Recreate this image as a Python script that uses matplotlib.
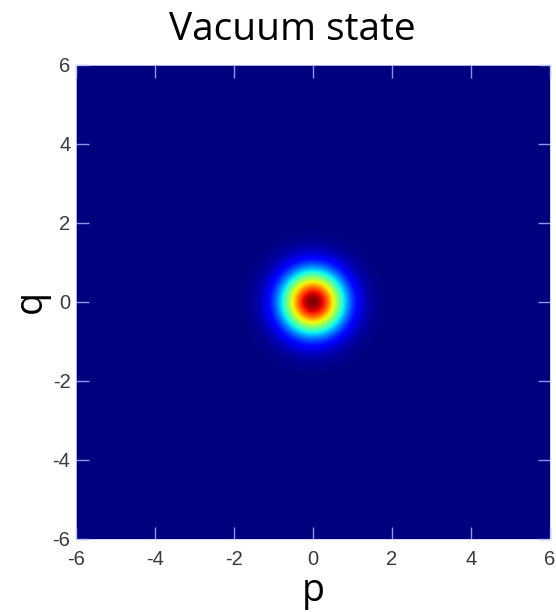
import numpy as np
import matplotlib
matplotlib.use('Agg')
import matplotlib.pyplot as plt

# phase-space grid and vacuum-state parameters
p_range = [-6, 6]
q_range = [-6, 6]
centre = [0.0, 0.0]        # (p, q) of the peak
width = 0.55               # gaussian std-dev in p and q
ticks = [-6, -4, -2, 0, 2, 4, 6]
title = 'Vacuum state'
xlabel = 'p'
ylabel = 'q'

plt.rcParams['axes.unicode_minus'] = False
plt.rcParams['font.family'] = ['Liberation Sans', 'DejaVu Sans']
plt.rcParams['xtick.labelsize'] = 14.5
plt.rcParams['ytick.labelsize'] = 14.5

n = 301
p = np.linspace(p_range[0], p_range[1], n)
q = np.linspace(q_range[0], q_range[1], n)
P, Q = np.meshgrid(p, q)
W = np.exp(-((P - centre[0])**2 + (Q - centre[1])**2) / (2 * width**2))

fig = plt.figure(figsize=(5.56, 6.12), dpi=100, facecolor='white')
ax = fig.add_axes([0.1367, 0.1193, 0.8525, 0.7745])
ax.imshow(W, cmap='jet', origin='lower', extent=p_range + q_range,
          interpolation='bilinear', aspect='auto')

ax.set_xticks(ticks)
ax.set_yticks(ticks)
ax.tick_params(direction='in', length=9, width=1, color='#8c96f0',
               labelcolor='#3a3a3a', top=True, right=True)
ax.tick_params(axis='x', pad=8)
ax.tick_params(axis='y', pad=4)
for s in ax.spines.values():
  s.set_color('#c8d0ff')
  s.set_linewidth(0.6)

fig.text(0.525, 0.935, title, ha='center', va='baseline',
         fontsize=28, family='Open Sans')
fig.text(0.563, 0.003, xlabel, ha='center', va='bottom',
         fontsize=27, family='Open Sans')
fig.text(0.022, 0.507, ylabel, ha='left', va='center', rotation=90,
         fontsize=27, family='Open Sans')

fig.savefig('out.png', dpi=100)
